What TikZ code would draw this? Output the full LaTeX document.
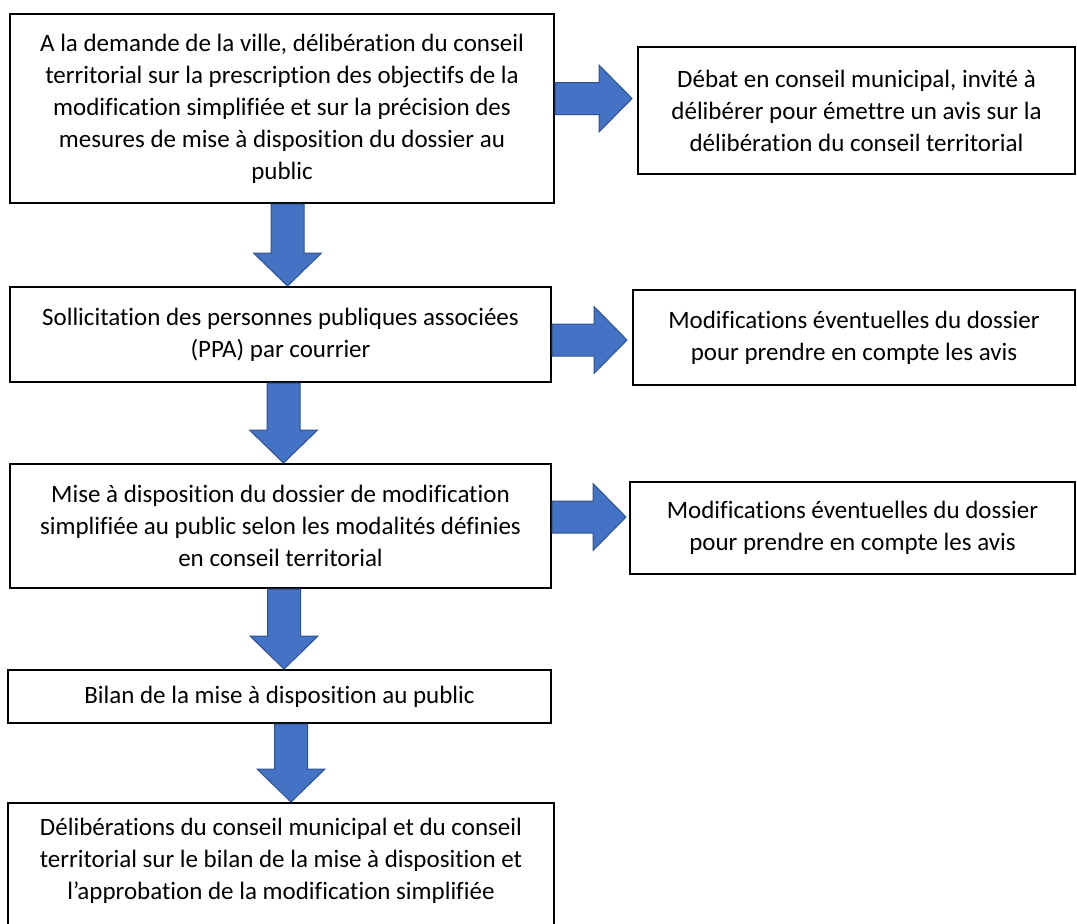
\documentclass[tikz,border=0pt]{standalone}
\usepackage{fontspec}
\setmainfont[Ligatures={TeX,NoCommon}]{Carlito}
\usepackage{tikz}
\usetikzlibrary{calc}

\definecolor{arrowblue}{HTML}{4472C4}
\definecolor{arrowedge}{HTML}{2F528F}

% fat block arrows between two boxes
\newcommand{\blockdown}[2]{%
  \draw[blockarrow] let \p1=(#1), \p2=(#2) in
    (\x1-8.25pt,\y1) -- (\x1-8.25pt,\y2+16.5pt) -- (\x1-17pt,\y2+16.5pt) -- (\x1,\y2)
    -- (\x1+17pt,\y2+16.5pt) -- (\x1+8.25pt,\y2+16.5pt) -- (\x1+8.25pt,\y1) -- cycle;}
\newcommand{\blockright}[2]{%
  \draw[blockarrow] let \p1=(#1), \p2=(#2) in
    (\x1,\y1-8pt) -- (\x2-16.5pt,\y1-8pt) -- (\x2-16.5pt,\y1-16.75pt) -- (\x2,\y1)
    -- (\x2-16.5pt,\y1+16.75pt) -- (\x2-16.5pt,\y1+8pt) -- (\x1,\y1+8pt) -- cycle;}

\begin{document}
\begin{tikzpicture}[x=0.5pt, y=-0.5pt, font=\fontsize{12.5}{16}\selectfont]
      \tikzstyle{box}=[rectangle, draw=black, line width=1pt, align=center, inner sep=0pt]
      \tikzstyle{boxtext}=[align=center, inner sep=0pt]
      \useasboundingbox (0,0) rectangle (1077,923);
      \tikzstyle{blockarrow}=[fill=arrowblue, draw=arrowedge, line width=0.5pt, line join=miter]
      \node[box, minimum width=272pt, minimum height=94.5pt] (dem) at (282,108.5)
        {A la demande de la ville, délibération du conseil\\ territorial sur la prescription des objectifs de la\\ modification simplifiée et sur la précision des\\ mesures de mise à disposition du dossier au\\ public};
      \node[box, minimum width=218.5pt, minimum height=63.5pt] (debat) at (856.5,110.5)
        {Débat en conseil municipal, invité à\\ délibérer pour émettre un avis sur la\\ délibération du conseil territorial};
      \node[box, minimum width=270.5pt, minimum height=47.5pt] (sol) at (280.5,334.5)
        {Sollicitation des personnes publiques associées\\ (PPA) par courrier};
      \node[box, minimum width=221pt, minimum height=47.5pt] (modifa) at (854,337.5)
        {Modifications éventuelles du dossier\\ pour prendre en compte les avis};
      \node[box, minimum width=270.5pt, minimum height=62pt] (mise) at (280.5,526)
        {Mise à disposition du dossier de modification\\ simplifiée au public selon les modalités définies\\ en conseil territorial};
      \node[box, minimum width=222.5pt, minimum height=46pt] (modifb) at (852.5,528)
        {Modifications éventuelles du dossier\\ pour prendre en compte les avis};
      \node[box, minimum width=271.5pt, minimum height=26.5pt] (bilan) at (279.5,696.5)
        {Bilan de la mise à disposition au public};
      % last box runs off the bottom of the page
      \node[box, minimum width=273pt, minimum height=72pt, anchor=north] (appro) at (281,802) {};
      \node[boxtext] (approtext) at (281,861)
        {Délibérations du conseil municipal et du conseil\\ territorial sur le bilan de la mise à disposition et\\ l’approbation de la modification simplifiée};
      \blockright{[yshift=5pt]dem.east}{[xshift=-2.5pt]debat.west}
      \blockright{[yshift=-2.75pt]sol.east}{[xshift=-2.5pt]modifa.west}
      \blockright{[yshift=4.5pt]mise.east}{[xshift=-1.5pt]modifb.west}
      \blockdown{[xshift=2.75pt]dem.south}{sol.north}
      \blockdown{[xshift=1.5pt]sol.south}{mise.north}
      \blockdown{[xshift=1.75pt]mise.south}{bilan.north}
      \blockdown{[xshift=5.75pt]bilan.south}{appro.north}
    \end{tikzpicture}
\end{document}
